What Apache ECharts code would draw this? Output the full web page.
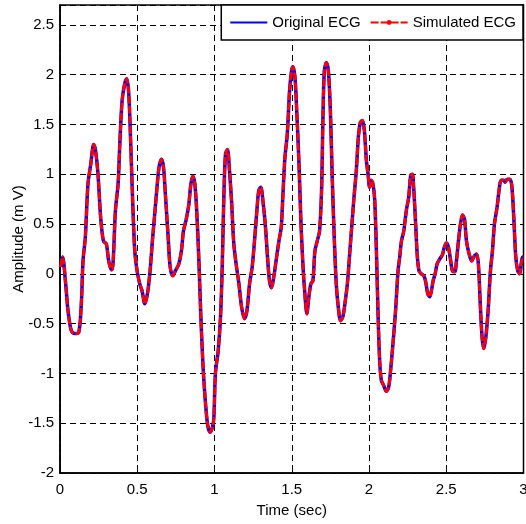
<!DOCTYPE html>
<html>
    <head>
        <meta charset="utf-8">
        <title>ECG</title>
        <script src="https://cdn.jsdelivr.net/npm/echarts@6/dist/echarts.min.js"></script>
        <style>
            html, body { margin: 0; padding: 0; background: #fff; }
        </style>
    </head>
    <body>
        <div id="chart1" style="width:526px;height:524px;"></div>
    </body>
    <script type="text/javascript">
        // time axis (sec)
        var timeSec = [0.004, 0.017, 0.035, 0.052, 0.073, 0.095, 0.121, 0.138, 0.149, 0.164, 0.181, 0.199, 0.218, 0.229, 0.246,
            0.263, 0.281, 0.300, 0.315, 0.333, 0.343, 0.359, 0.376, 0.387, 0.402, 0.419, 0.432, 0.445, 0.458, 0.471,
            0.484, 0.499, 0.516, 0.531, 0.549, 0.566, 0.583, 0.598, 0.613, 0.628, 0.641, 0.657, 0.670, 0.682, 0.700,
            0.713, 0.730, 0.747, 0.769, 0.786, 0.799, 0.816, 0.834, 0.847, 0.860, 0.873, 0.886, 0.899, 0.911, 0.924,
            0.937, 0.955, 0.972, 0.987, 0.996, 1.006, 1.024, 1.039, 1.050, 1.060, 1.071, 1.084, 1.097, 1.110, 1.125,
            1.140, 1.158, 1.175, 1.194, 1.210, 1.227, 1.244, 1.261, 1.276, 1.287, 1.300, 1.313, 1.330, 1.343, 1.356,
            1.369, 1.384, 1.402, 1.417, 1.432, 1.443, 1.456, 1.471, 1.486, 1.499, 1.508, 1.521, 1.533, 1.547, 1.559,
            1.572, 1.585, 1.598, 1.611, 1.624, 1.637, 1.650, 1.665, 1.680, 1.693, 1.702, 1.711, 1.724, 1.737, 1.750,
            1.762, 1.775, 1.788, 1.801, 1.816, 1.831, 1.844, 1.860, 1.875, 1.888, 1.903, 1.918, 1.931, 1.944, 1.957,
            1.970, 1.983, 1.994, 2.004, 2.015, 2.026, 2.037, 2.048, 2.058, 2.069, 2.080, 2.095, 2.112, 2.127, 2.140,
            2.155, 2.172, 2.188, 2.199, 2.210, 2.225, 2.242, 2.257, 2.270, 2.281, 2.289, 2.302, 2.313, 2.324, 2.339,
            2.355, 2.367, 2.380, 2.393, 2.404, 2.415, 2.428, 2.441, 2.458, 2.475, 2.488, 2.501, 2.514, 2.527, 2.540,
            2.555, 2.566, 2.579, 2.592, 2.605, 2.618, 2.631, 2.648, 2.665, 2.678, 2.696, 2.708, 2.721, 2.732, 2.743,
            2.756, 2.771, 2.786, 2.799, 2.812, 2.829, 2.842, 2.855, 2.873, 2.881, 2.894, 2.911, 2.924, 2.937, 2.950,
            2.963, 2.976, 2.985, 2.994, 3.000];

        // amplitude (mV), original recording
        var originalEcg = [0.07, 0.17, -0.07, -0.37, -0.57, -0.60, -0.59, -0.30, 0.13, 0.37, 0.90, 1.10, 1.30, 1.25, 1.00,
            0.57, 0.33, 0.30, 0.13, 0.04, 0.10, 0.64, 0.90, 1.30, 1.74, 1.91, 1.96, 1.81, 1.30, 0.70,
            0.23, 0.03, -0.10, -0.17, -0.30, -0.20, 0.03, 0.33, 0.60, 0.87, 1.07, 1.15, 1.07, 0.80, 0.37,
            0.07, -0.02, 0.03, 0.10, 0.23, 0.43, 0.54, 0.70, 0.90, 0.98, 0.90, 0.60, 0.13, -0.40, -0.87,
            -1.20, -1.51, -1.59, -1.54, -1.44, -1.00, -0.77, -0.43, 0.07, 0.74, 1.20, 1.25, 1.04, 0.74, 0.30,
            0.10, -0.10, -0.33, -0.45, -0.37, -0.10, 0.07, 0.37, 0.67, 0.84, 0.87, 0.74, 0.47, 0.17, -0.07,
            -0.14, -0.03, 0.17, 0.33, 0.47, 0.80, 1.17, 1.40, 1.84, 2.04, 2.08, 1.97, 1.61, 1.10, 0.54,
            0.10, -0.20, -0.40, -0.23, -0.10, -0.07, 0.23, 0.33, 0.43, 0.84, 1.57, 2.04, 2.12, 2.04, 1.64,
            0.97, 0.37, -0.10, -0.33, -0.47, -0.43, -0.30, -0.10, 0.20, 0.47, 0.77, 1.04, 1.37, 1.52, 1.54,
            1.44, 1.14, 1.00, 0.87, 0.94, 0.90, 0.74, 0.23, -0.37, -0.87, -1.07, -1.12, -1.18, -1.14, -0.97,
            -0.70, -0.37, 0.03, 0.17, 0.33, 0.43, 0.64, 0.77, 0.99, 1.00, 0.87, 0.50, 0.17, 0.03, 0.00,
            -0.02, -0.08, -0.20, -0.23, -0.17, -0.07, 0.00, 0.10, 0.15, 0.19, 0.27, 0.31, 0.27, 0.15, 0.03,
            0.02, 0.13, 0.33, 0.50, 0.59, 0.55, 0.33, 0.20, 0.13, 0.17, 0.20, 0.10, -0.33, -0.64, -0.75,
            -0.64, -0.37, 0.03, 0.23, 0.50, 0.67, 0.84, 0.94, 0.94, 0.92, 0.95, 0.95, 0.89, 0.57, 0.17,
            0.03, 0.00, 0.10, 0.17, 0.17];

        // simulated signal lies on top of the original in the figure
        var simulatedEcg = originalEcg;

        var seriesNames = ['Original ECG', 'Simulated ECG'];
        var xTicks = [0, 0.5, 1, 1.5, 2, 2.5, 3];
        var yTicks = [-2, -1.5, -1, -0.5, 0, 0.5, 1, 1.5, 2, 2.5];

        function pairs(xs, ys) {
            var out = [];
            for (var i = 0; i < xs.length; i++) {
                out.push([xs[i], ys[i]]);
            }
            return out;
        }

        var font = '"Liberation Sans", Arial, sans-serif';

        var myChart1 = echarts.init(document.getElementById('chart1'));
        myChart1.setOption({
            animation: false,
            backgroundColor: '#fff',
            grid: {
                left: 60,
                right: 2.5,
                top: 5,
                bottom: 51,
                outerBoundsMode: 'none',
                containLabel: false,
                show: true,
                borderColor: '#000',
                borderWidth: 1.5
            },
            legend: {
                right: 3,
                top: 5,
                orient: 'horizontal',
                backgroundColor: '#fff',
                borderColor: '#000',
                borderWidth: 1.5,
                borderRadius: 0,
                padding: [10, 7, 10, 8],
                itemGap: 9,
                itemWidth: 37,
                itemHeight: 6,
                textStyle: { fontFamily: font, fontSize: 15, color: '#000' },
                data: [
                    { name: seriesNames[0], itemStyle: { opacity: 0 } },
                    { name: seriesNames[1] }
                ]
            },
            xAxis: {
                type: 'value',
                min: xTicks[0],
                max: xTicks[xTicks.length - 1],
                interval: 0.5,
                name: 'Time (sec)',
                nameLocation: 'middle',
                nameGap: 30,
                nameMoveOverlap: false,
                nameTextStyle: { fontFamily: font, fontSize: 15, color: '#000', verticalAlign: 'top' },
                axisLine: { onZero: false, lineStyle: { color: '#000', width: 1.5 } },
                axisTick: { inside: true, length: 5, lineStyle: { color: '#000' } },
                axisLabel: { fontFamily: font, fontSize: 15, color: '#000', margin: 9 },
                splitLine: { show: true, lineStyle: { color: '#000', type: [6, 4], width: 1 } }
            },
            yAxis: {
                type: 'value',
                min: yTicks[0],
                max: 2.7,
                interval: 0.5,
                name: 'Amplitude (m V)',
                nameLocation: 'middle',
                nameGap: 34,
                nameMoveOverlap: false,
                nameTextStyle: { fontFamily: font, fontSize: 15, color: '#000' },
                axisLine: { show: true, onZero: false, lineStyle: { color: '#000', width: 1.5 } },
                axisTick: { inside: true, length: 5, lineStyle: { color: '#000' } },
                axisLabel: {
                    fontFamily: font, fontSize: 15, color: '#000', margin: 6,
                    showMaxLabel: false,
                    formatter: function (v) { return yTicks.indexOf(v) >= 0 ? String(v) : ''; }
                },
                splitLine: { show: true, lineStyle: { color: '#000', type: [6, 4], width: 1 } }
            },
            series: [
                {
                    name: seriesNames[0],
                    type: 'line',
                    data: pairs(timeSec, originalEcg),
                    symbol: 'none',
                    smooth: 0.3,
                    lineStyle: { color: '#0000ff', width: 3.5 },
                    itemStyle: { color: '#0000ff' },
                    z: 2
                },
                {
                    name: seriesNames[1],
                    type: 'line',
                    data: pairs(timeSec, simulatedEcg),
                    symbol: 'circle',
                    symbolSize: 5,
                    showSymbol: false,
                    smooth: 0.3,
                    lineStyle: { color: '#ff0000', width: 3, type: [8, 2] },
                    itemStyle: { color: '#ff0000' },
                    z: 3
                }
            ]
        });
    </script>
</html>
